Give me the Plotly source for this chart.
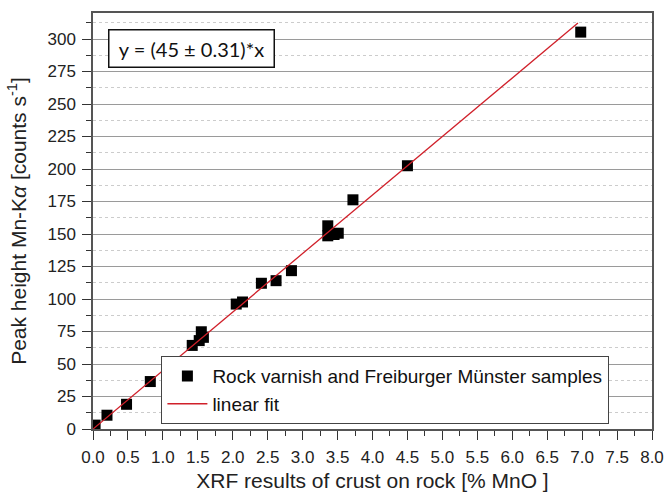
import numpy as np
import plotly.graph_objects as go

# XRF MnO content of crust on rock [% MnO] and the measured Mn-Kα peak height [counts/s]
mno_percent = [0.03, 0.20, 0.48, 0.82, 1.42, 1.52, 1.55, 1.58, 2.05, 2.14, 2.41, 2.62,
               2.84, 3.36, 3.36, 3.45, 3.51, 3.72, 4.50, 6.98]
peak_height = [3.0, 10.6, 19.0, 36.5, 64.3, 68.0, 74.8, 70.5, 96.1, 97.7, 112.1, 114.1,
               121.8, 156.3, 148.6, 149.6, 150.6, 176.3, 202.5, 305.3]

# linear fit through the origin
slope = 45.0
slope_err = 0.31
fit_x = [0.0, 6.94]
fit_y = [slope * v for v in fit_x]

x_ticks = [i * 0.5 for i in range(17)]
x_ticklabels = [f"{v:.1f}" for v in x_ticks]
y_ticks = list(range(0, 301, 25))

fig = go.Figure()
fig.add_trace(go.Scatter(
    x=mno_percent, y=peak_height, mode="markers",
    name="Rock varnish and Freiburger Münster samples",
    marker=dict(symbol="square", size=11, color="black", line=dict(width=0)),
))
fig.add_trace(go.Scatter(
    x=fit_x, y=fit_y, mode="lines", name="linear fit",
    line=dict(color="#d0202a", width=1.3),
))

axis_font = dict(family="Liberation Sans, Arial, sans-serif", size=17, color="#222")

fig.update_layout(
    width=666, height=492,
    margin=dict(l=93, r=14, t=13, b=63),
    paper_bgcolor="white", plot_bgcolor="white",
    font=dict(family="Liberation Sans, Arial, sans-serif", color="#222"),
    showlegend=True,
    legend=dict(
        x=0.122, y=0.012, xanchor="left", yanchor="bottom",
        bgcolor="white", bordercolor="#444", borderwidth=1.2,
        font=dict(size=19, color="#111"),
        tracegroupgap=0, itemwidth=40,
    ),
    xaxis=dict(
        range=[0, 8.0], tickmode="array", tickvals=x_ticks, ticktext=x_ticklabels,
        ticks="outside", ticklen=9, tickwidth=1.3, tickcolor="#333",
        minor=dict(dtick=0.25, ticks="outside", ticklen=5, tickwidth=1.2, tickcolor="#333",
                   showgrid=False),
        showgrid=False, zeroline=False, automargin=False,
        showline=True, linecolor="#555", linewidth=1.5, mirror=True,
        tickfont=axis_font, ticklabelstandoff=3,
        title=dict(text="XRF results of crust on rock [% MnO ]",
                   font=dict(size=21, color="#222")),
    ),
    yaxis=dict(
        range=[0, 320], tickmode="array", tickvals=y_ticks,
        ticks="outside", ticklen=9, tickwidth=1.3, tickcolor="#333",
        minor=dict(dtick=12.5, ticks="outside", ticklen=5, tickwidth=1.2, tickcolor="#333",
                   showgrid=True, gridcolor="#cccccc", griddash="dot", gridwidth=1),
        showgrid=True, gridcolor="#9a9a9a", gridwidth=1.3,
        zeroline=False, automargin=False,
        showline=True, linecolor="#555", linewidth=1.5, mirror=True,
        tickfont=axis_font, ticklabelstandoff=3,
        title=dict(text="Peak height Mn-K<i>α</i> [counts s<sup>-1</sup>]",
                   font=dict(size=21, color="#222")),
    ),
)

fig.add_annotation(
    xref="paper", yref="paper", x=0.0274, y=0.962, xanchor="left", yanchor="top",
    text=f"y = ({slope:.0f} ± {slope_err})*x", showarrow=False,
    font=dict(family="Lato, Carlito, sans-serif", size=20, color="#111"),
    bgcolor="white", bordercolor="#111", borderwidth=1.5, borderpad=3,
    width=158, height=30,
)

fig.write_html("out.html")
